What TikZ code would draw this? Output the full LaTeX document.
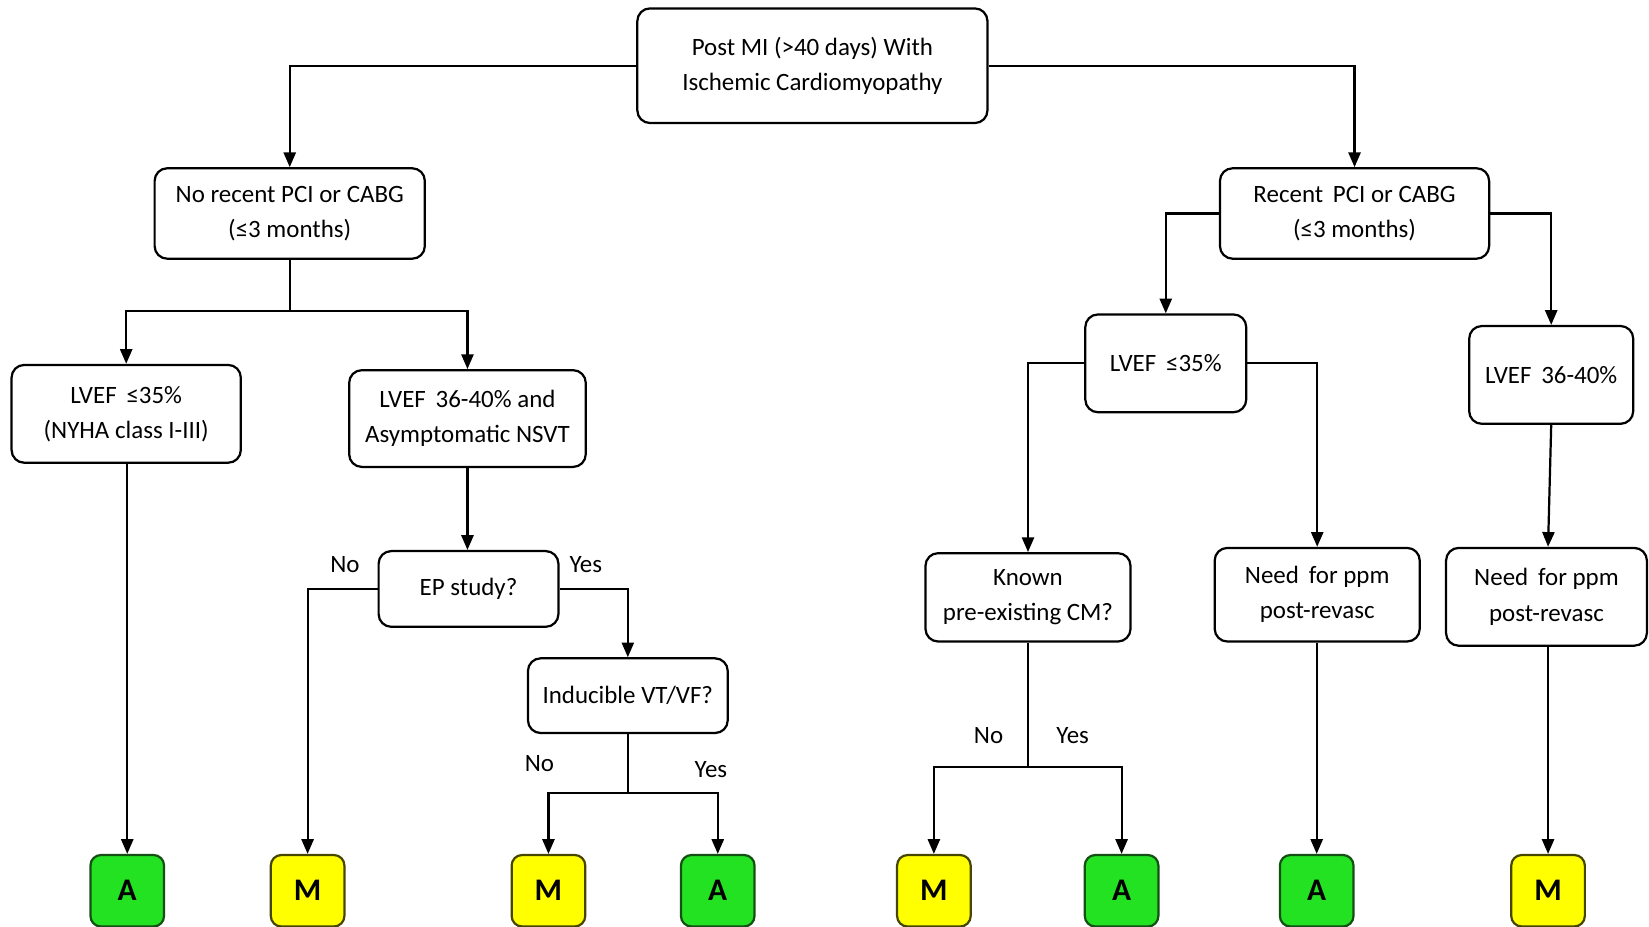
\documentclass[tikz,border=0pt]{standalone}
\usepackage{fontspec}
\setmainfont{Carlito}
\usetikzlibrary{arrows.meta}
\definecolor{boxgreen}{RGB}{34,226,34}
\definecolor{boxgreenb}{RGB}{20,80,20}
\definecolor{boxyellow}{RGB}{255,255,0}
\definecolor{boxyellowb}{RGB}{70,70,0}
\tikzset{
  flowbox/.style={draw=black, line width=1.2pt, rounded corners=0.24cm, fill=white,
    align=center, inner sep=0pt, font=\fontsize{13.5}{19}\selectfont},
  outbox/.style={draw, line width=1.2pt, rounded corners=0.2cm, inner sep=0pt,
    minimum width=1.4cm, minimum height=1.36cm, font=\fontsize{17}{20}\selectfont\bfseries},
  abox/.style={outbox, fill=boxgreen, draw=boxgreenb},
  mbox/.style={outbox, fill=boxyellow, draw=boxyellowb},
  conn/.style={line width=1.2pt, draw=black},
  arr/.style={conn, -{Triangle[length=2.8mm,width=2.3mm]}},
  lbl/.style={font=\fontsize{13.5}{16}\selectfont, inner sep=0pt}
}
\begin{document}
\begin{tikzpicture}[x=0.02cm, y=-0.02cm]
\useasboundingbox (0,0) rectangle (1568,881);
% boxes
\node[flowbox, minimum width=6.66cm, minimum height=2.18cm] (top) at (772.5,62.5) {Post MI (>40 days) With\\Ischemic Cardiomyopathy};
\node[flowbox, minimum width=5.14cm, minimum height=1.72cm] (norecent) at (275.5,203) {No recent PCI or CABG\\(≤3 months)};
\node[flowbox, minimum width=5.12cm, minimum height=1.72cm] (recent) at (1288,203) {Recent\, PCI or CABG\\(≤3 months)};
\node[flowbox, minimum width=4.36cm, minimum height=1.86cm] (lv1) at (120,393.5) {LVEF\, ≤35\%\\(NYHA class I-III)};
\node[flowbox, minimum width=4.5cm, minimum height=1.84cm] (lv2) at (444.5,398) {LVEF\, 36-40\% and\\Asymptomatic NSVT};
\node[flowbox, minimum width=3.42cm, minimum height=1.44cm] (ep) at (445.5,560) {EP study?};
\node[flowbox, minimum width=3.8cm, minimum height=1.42cm] (ind) at (597,661.5) {Inducible VT/VF?};
\node[flowbox, minimum width=3.06cm, minimum height=1.86cm] (lv3) at (1108.5,345.5) {LVEF\, ≤35\%};
\node[flowbox, minimum width=3.12cm, minimum height=1.86cm] (lv4) at (1475,356.5) {LVEF\, 36-40\%};
\node[flowbox, minimum width=3.9cm, minimum height=1.68cm] (known) at (977.5,568) {Known\\pre-existing CM?};
\node[flowbox, minimum width=3.9cm, minimum height=1.78cm] (need1) at (1252.5,565.5) {Need\, for ppm\\post-revasc};
\node[flowbox, minimum width=3.82cm, minimum height=1.86cm] (need2) at (1470.5,567.5) {Need\, for ppm\\post-revasc};
% outcome boxes
\node[abox] (a1) at (121,847) {A};
\node[mbox] (m1) at (292.5,847) {M};
\node[mbox] (m2) at (521.5,847) {M};
\node[abox] (a2) at (682.5,847) {A};
\node[mbox] (m3) at (888,847) {M};
\node[abox] (a3) at (1066.5,847) {A};
\node[abox] (a4) at (1252,847) {A};
\node[mbox] (m4) at (1472,847) {M};
% junctions
\coordinate (j1) at (275.5,296);
\coordinate (j2) at (597,754);
\coordinate (j3) at (977.5,729);
% connectors
\draw[arr] (top.west) -| (norecent.north);
\draw[arr] (top.east) -| (recent.north);
\draw[conn] (norecent.south) -- (j1);
\draw[arr] (j1) -| (lv1.north);
\draw[arr] (j1) -| (lv2.north);
\draw[arr] (lv1.south -| a1.north) -- (a1.north);
\draw[arr] (lv2.south) -- (lv2.south |- ep.north);
\draw[arr] (ep.west) -| (m1.north);
\draw[arr] (ep.east) -| (ind.north);
\draw[conn] (ind.south) -- (j2);
\draw[arr] (j2) -| (m2.north);
\draw[arr] (j2) -| (a2.north);
\draw[arr] (recent.west) -| (lv3.north);
\draw[arr] (recent.east) -| (lv4.north);
\draw[arr] (lv3.west) -| (known.north);
\draw[arr] (lv3.east) -| (need1.north);
\draw[arr] (lv4.south) -- (m4.north |- need2.north);
\draw[conn] (known.south) -- (j3);
\draw[arr] (j3) -| (m3.north);
\draw[arr] (j3) -| (a3.north);
\draw[arr] (need1.south -| a4.north) -- (a4.north);
\draw[arr] (need2.south -| m4.north) -- (m4.north);
% labels
\node[lbl] (l1) at (328,537) {No};
\node[lbl] (l2) at (557,537) {Yes};
\node[lbl] (l3) at (513,726) {No};
\node[lbl] (l4) at (676,732) {Yes};
\node[lbl] (l5) at (940,699) {No};
\node[lbl] (l6) at (1020,699) {Yes};
\end{tikzpicture}
\end{document}
